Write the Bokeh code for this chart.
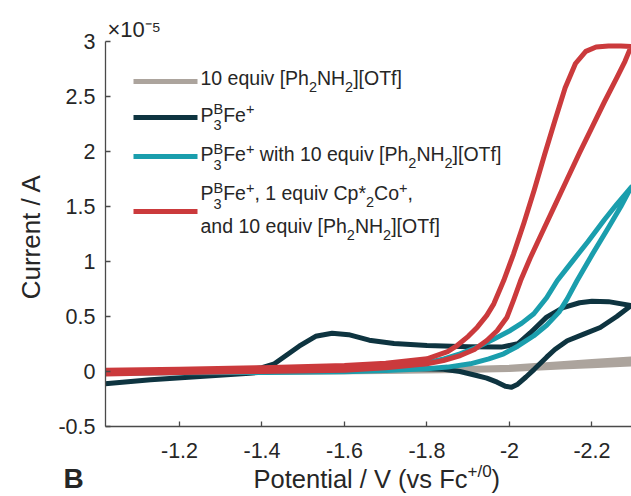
import math
from bokeh.plotting import figure
from bokeh.layouts import column, row
from bokeh.models import Range1d, FixedTicker, CustomJSTickFormatter, Label, Arrow
from bokeh.embed import file_html
from bokeh.resources import INLINE

# ---------------- data (potential in V vs Fc+/0, current in units of 1e-5 A) ----------------
x_ticks = [-1.2, -1.4, -1.6, -1.8, -2.0, -2.2]
y_ticks = [-0.5, 0, 0.5, 1, 1.5, 2, 2.5, 3]

acid_fwd_V = [-1.02, -1.4, -1.7, -1.88, -2.0, -2.124, -2.2, -2.295]
acid_fwd_I = [0.0, 0.0, 0.008, 0.025, 0.038, 0.07, 0.09, 0.114]
acid_rev_V = [-2.295, -2.2, -2.124, -2.0, -1.88, -1.7, -1.4, -1.02]
acid_rev_I = [0.068, 0.052, 0.04, 0.018, 0.01, 0.0, -0.008, -0.01]

fe_fwd_V = [-1.02, -1.2, -1.35, -1.40, -1.43, -1.46, -1.49, -1.53, -1.57, -1.61, -1.66,
            -1.72, -1.80, -1.90, -1.98, -2.02, -2.05, -2.09, -2.13, -2.17, -2.20, -2.24, -2.295]
fe_fwd_I = [-0.01, -0.005, 0.01, 0.035, 0.07, 0.15, 0.23, 0.32, 0.348, 0.335, 0.285,
            0.255, 0.236, 0.226, 0.222, 0.252, 0.35, 0.494, 0.58, 0.625, 0.639, 0.635, 0.6]
fe_rev_V = [-2.295, -2.26, -2.22, -2.18, -2.14, -2.11, -2.09, -2.06, -2.04, -2.02, -2.005,
            -1.99, -1.97, -1.945, -1.92, -1.88, -1.84, -1.75, -1.60, -1.45, -1.37, -1.25, -1.13, -1.02]
fe_rev_I = [0.6, 0.5, 0.40, 0.34, 0.28, 0.20, 0.13, 0.02, -0.05, -0.115, -0.143,
            -0.135, -0.097, -0.06, -0.036, 0.0, 0.02, 0.028, 0.02, 0.005, -0.015, -0.045, -0.075, -0.112]

feacid_fwd_V = [-1.02, -1.2, -1.4, -1.6, -1.72, -1.80, -1.841, -1.88, -1.922, -1.96, -2.002,
                -2.03, -2.059, -2.09, -2.116, -2.15, -2.19, -2.23, -2.26, -2.295]
feacid_fwd_I = [-0.01, -0.008, 0.0, 0.015, 0.039, 0.08, 0.115, 0.16, 0.221, 0.29, 0.373,
                0.44, 0.525, 0.67, 0.827, 0.99, 1.18, 1.38, 1.52, 1.675]
feacid_rev_V = [-2.295, -2.27, -2.24, -2.20, -2.164, -2.14, -2.12, -2.09, -2.059, -2.02,
                -1.986, -1.95, -1.905, -1.85, -1.80, -1.7, -1.6, -1.4, -1.2, -1.02]
feacid_rev_I = [1.675, 1.5, 1.31, 1.06, 0.827, 0.66, 0.54, 0.42, 0.325, 0.23,
                0.161, 0.115, 0.07, 0.04, 0.025, 0.008, -0.002, -0.008, -0.012, -0.015]

feco_fwd_V = [-1.02, -1.2, -1.4, -1.6, -1.7, -1.8, -1.85, -1.873, -1.90, -1.922, -1.945, -1.962,
              -1.986, -2.01, -2.035, -2.06, -2.085, -2.11, -2.135, -2.16, -2.185, -2.21, -2.24,
              -2.27, -2.295]
feco_fwd_I = [0.011, 0.02, 0.035, 0.055, 0.075, 0.115, 0.18, 0.236, 0.32, 0.403, 0.51, 0.615,
              0.827, 1.07, 1.35, 1.65, 1.97, 2.28, 2.58, 2.80, 2.91, 2.95, 2.96, 2.96, 2.955]
feco_rev_V = [-2.295, -2.28, -2.26, -2.23, -2.20, -2.17, -2.14, -2.11, -2.08, -2.05, -2.027,
              -2.01, -1.994, -1.97, -1.945, -1.915, -1.881, -1.84, -1.80, -1.7, -1.6, -1.4,
              -1.2, -1.02]
feco_rev_I = [2.955, 2.82, 2.67, 2.45, 2.22, 1.99, 1.75, 1.51, 1.27, 1.03, 0.827,
              0.65, 0.494, 0.37, 0.282, 0.2, 0.145, 0.1, 0.07, 0.035, 0.012, 0.0,
              -0.01, -0.023]

colors = {"acid": "#aca49d", "fe": "#0e3440", "feacid": "#1a9ead", "feco": "#cb3a3c"}
scale_label = "\u00d710\u207b\u2075"

# ---------------- geometry (page pixels) ----------------
X0, X1 = -1.0206, -2.2958          # potential at left / right frame edge
Y0, Y1 = -0.5, 3.0
FL, FR, FT, FB = 105.0, 631.0, 41.0, 426.0   # frame edges on the page
TEXT = "#262626"
FONT = "Liberation Sans"
BASE_SHIFT = 0.465   # em offset between requested and rendered baseline

def vx(px):   # page x pixel -> potential
    return X0 + (px - FL) / (FR - FL) * (X1 - X0)

def iy(py):   # page y pixel -> current
    return Y1 + (py - FT) / (FB - FT) * (Y0 - Y1)

def ident(v):
    return v

# ---------------- main plot ----------------
LEFT_W, BOT_H = 50, 35
p = figure(width=631 - LEFT_W, height=496 - BOT_H,
           x_range=Range1d(X0, X1), y_range=Range1d(Y0, Y1),
           output_backend="svg", toolbar_location=None,
           min_border_left=int(FL) - LEFT_W, min_border_right=0,
           min_border_top=int(FT), min_border_bottom=(496 - BOT_H) - int(FB))
p.outline_line_color = None
p.xgrid.visible = False
p.ygrid.visible = False
p.background_fill_color = "white"
p.border_fill_color = "white"

p.title.text = scale_label
p.title.align = "left"
p.title.offset = 2
p.title.standoff = 0
p.title.text_font = FONT
p.title.text_font_size = "22px"
p.title.text_font_style = "normal"
p.title.text_color = TEXT

fmt = CustomJSTickFormatter(code="return String(Math.round(tick*10)/10);")
for ax, ticks, standoff in ((p.xaxis[0], x_ticks, 16), (p.yaxis[0], y_ticks, 10)):
    ax.ticker = FixedTicker(ticks=ticks)
    ax.formatter = fmt
    ax.major_tick_in = 5
    ax.major_tick_out = 0
    ax.minor_tick_line_color = None
    ax.axis_line_color = "#4a4a4a"
    ax.major_tick_line_color = "#4a4a4a"
    ax.axis_line_width = 1.3
    ax.major_tick_line_width = 1.3
    ax.major_label_text_font = FONT
    ax.major_label_text_font_size = "21.5px"
    ax.major_label_text_color = TEXT
    ax.major_label_standoff = standoff

for key, fv, fi, rv, ri in (("acid", acid_fwd_V, acid_fwd_I, acid_rev_V, acid_rev_I),
                            ("fe", fe_fwd_V, fe_fwd_I, fe_rev_V, fe_rev_I),
                            ("feacid", feacid_fwd_V, feacid_fwd_I, feacid_rev_V, feacid_rev_I),
                            ("feco", feco_fwd_V, feco_fwd_I, feco_rev_V, feco_rev_I)):
    p.line(fv + rv, fi + ri, line_color=colors[key], line_width=5,
           line_join="round", line_cap="round")

# ---------------- text figures beside / below the plot ----------------
def text_fig(x0, y0, w, h):
    f = figure(width=w, height=h, x_range=Range1d(x0, x0 + w), y_range=Range1d(y0 + h, y0),
               output_backend="svg", toolbar_location=None, x_axis_type=None, y_axis_type=None,
               min_border_left=0, min_border_right=0, min_border_top=0, min_border_bottom=0)
    f.outline_line_color = None
    f.background_fill_color = "white"
    f.border_fill_color = "white"
    return f

left_f = text_fig(0, 0, LEFT_W, 496 - BOT_H)
bot_f = text_fig(0, 496 - BOT_H, 631, BOT_H)

# ---------------- text helpers ----------------
W = {' ': 278, '(': 333, ')': 333, '*': 389, '+': 584, ',': 278, '-': 333, '.': 278, '/': 278,
     'A': 667, 'B': 667, 'C': 722, 'F': 611, 'H': 722, 'N': 722, 'O': 778, 'P': 667, 'T': 611,
     'V': 667, '[': 278, ']': 278, 'a': 556, 'c': 500, 'd': 556, 'e': 556, 'f': 278, 'h': 556,
     'i': 222, 'l': 222, 'n': 556, 'o': 556, 'p': 556, 'q': 556, 'r': 333, 's': 500, 't': 278,
     'u': 556, 'v': 500, 'w': 722, '\u00d7': 584}
for d in "0123456789":
    W[d] = 556

def tw(s, size):
    return sum(W.get(c, 556) for c in s) * size / 1000.0

def add_text(fig, cx, cy, xr, yr, s, size, style="normal", align="left", angle=0.0, x_off=0.0):
    # xr, yr: wanted baseline point in page pixels
    xs = xr - BASE_SHIFT * size * math.sin(angle)
    ys = yr - BASE_SHIFT * size * math.cos(angle)
    fig.add_layout(Label(x=cx(xs), y=cy(ys), text=s, text_font=FONT,
                         text_font_size=f"{size}px", text_font_style=style, text_color=TEXT,
                         text_align=align, text_baseline="alphabetic", angle=angle,
                         x_offset=x_off))

def rich(fig, cx, cy, xr, yr, pieces, M=19.5, S=14.5, sub_dy=6, sup_dy=-8, stack_dy=8):
    cur = 0.0
    for pc in pieces:
        kind = pc[0]
        if kind == "stack":
            add_text(fig, cx, cy, xr, yr + sup_dy, pc[1], S, x_off=cur)
            add_text(fig, cx, cy, xr, yr + stack_dy, pc[2], S, x_off=cur)
            cur += max(tw(pc[1], S), tw(pc[2], S))
            continue
        s = pc[1]
        size = M if kind == "n" else S
        dy = 0 if kind == "n" else (sub_dy if kind == "sub" else sup_dy)
        lead = len(s) - len(s.lstrip(" "))
        add_text(fig, cx, cy, xr, yr + dy, s.strip(" "), size, x_off=cur + tw(" " * lead, size))
        cur += tw(s, size)

acid_lbl = [("n", "10 equiv [Ph"), ("sub", "2"), ("n", "NH"), ("sub", "2"), ("n", "][OTf]")]
fe_lbl = [("n", "P"), ("stack", "B", "3"), ("n", "Fe"), ("sup", "+")]

# ---------------- legend (inside the frame) ----------------
legend_rows = [("acid", 81, [(87, acid_lbl)]),
               ("fe", 117, [(123.5, fe_lbl)]),
               ("feacid", 156, [(163, fe_lbl + [("n", " with ")] + acid_lbl)]),
               ("feco", 211, [(202, fe_lbl + [("n", ", 1 equiv Cp*"), ("sub", "2"), ("n", "Co"),
                                              ("sup", "+"), ("n", ",")]),
                              (235, [("n", "and ")] + acid_lbl)])]
for key, ly, lines in legend_rows:
    p.add_layout(Arrow(end=None, x_start=vx(133), y_start=iy(ly), x_end=vx(197), y_end=iy(ly),
                       line_color=colors[key], line_width=5))
    for by, pieces in lines:
        rich(p, vx, iy, 200, by, pieces)

# ---------------- axis texts ----------------
add_text(left_f, ident, ident, 43, 233.5, "Current / A", 26, align="center", angle=math.pi / 2)
rich(bot_f, ident, ident, 253, 490, [("n", "Potential / V (vs Fc"), ("sup", "+/0"), ("n", ")")],
     M=25.5, S=17, sup_dy=-11)
add_text(bot_f, ident, ident, 63, 491, "B", 28, style="bold")

layout = column(row(left_f, p), bot_f)
open("out.html", "w").write(file_html(layout, INLINE))
